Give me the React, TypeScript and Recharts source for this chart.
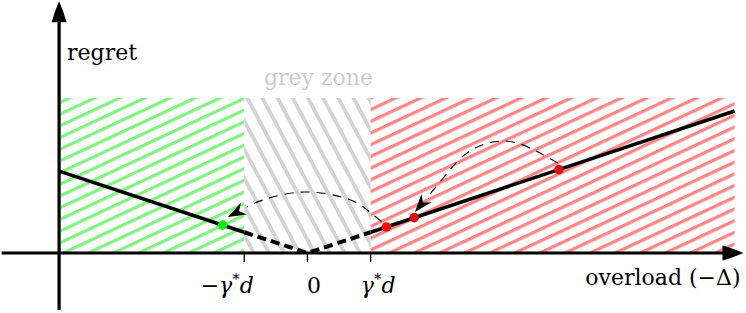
import React from 'react';
import {
  ComposedChart,
  XAxis,
  YAxis,
  Line,
  ReferenceArea,
  ReferenceLine,
  ReferenceDot,
} from 'recharts';

// ---- data (units: x in multiples of γ*d, y in regret units) ----
const X_DOMAIN: [number, number] = [-4.865, 6.94];
const Y_DOMAIN: [number, number] = [0, 4.08];

const regretAxisX = -3.93;
const xAxisSegment = [
  { x: -4.84, y: 0 },
  { x: 6.9, y: 0 },
];
const yAxisSegment = [
  { x: regretAxisX, y: -0.92 },
  { x: regretAxisX, y: 4.06 },
];

const tickValues = [-1, 0, 1];
const tickLabels = ['−γ*d', '0', 'γ*d'];

const zoneTop = 2.5;
const greenZone = { x1: -3.9, x2: -1 };
const greyZone = { x1: -1, x2: 1 };
const redZone = { x1: 1, x2: 6.76 };

const leftSolid = [
  { x: -3.93, y: 1.32 },
  { x: -1, y: 0.335 },
];
const middleDashed = [
  { x: -1, y: 0.335 },
  { x: 0, y: 0 },
  { x: 1, y: 0.335 },
];
const rightSolid = [
  { x: 1, y: 0.335 },
  { x: 6.76, y: 2.29 },
];

const arcLeft = [
  { x: 1.174, y: 0.505 },
  { x: 0.926, y: 0.71 },
  { x: 0.641, y: 0.871 },
  { x: -0.04, y: 0.984 },
  { x: -0.704, y: 0.855 },
  { x: -0.96, y: 0.74 },
];
const arcLeftHead = [
  { x: -0.96, y: 0.74 },
  { x: -1.258, y: 0.581 },
];
const arcRight = [
  { x: 3.964, y: 1.452 },
  { x: 3.584, y: 1.661 },
  { x: 3.125, y: 1.806 },
  { x: 2.571, y: 1.645 },
  { x: 2.176, y: 1.242 },
  { x: 1.88, y: 0.88 },
];
const arcRightHead = [
  { x: 1.88, y: 0.88 },
  { x: 1.701, y: 0.661 },
];

const greenPoints = [{ x: -1.34, y: 0.45 }];
const redPoints = [
  { x: 1.25, y: 0.42, c: '#ff0a0a' },
  { x: 1.69, y: 0.57, c: '#d81010' },
  { x: 3.98, y: 1.345, c: '#dd1010' },
];

const FONT = "'DejaVu Serif', serif";
const FS = 22;

// ---- shapes ----
const AxisArrow = (p: any) => {
  const { x1, y1, x2, y2 } = p;
  const dx = x2 - x1;
  const dy = y2 - y1;
  const len = Math.hypot(dx, dy) || 1;
  const ux = dx / len;
  const uy = dy / len;
  const nx = -uy;
  const ny = ux;
  const L = 21;
  const W = 7.5;
  const bx = x2 - ux * L;
  const by = y2 - uy * L;
  const mx1 = x2 - ux * L * 0.5 + nx * W * 0.62;
  const my1 = y2 - uy * L * 0.5 + ny * W * 0.62;
  const mx2 = x2 - ux * L * 0.5 - nx * W * 0.62;
  const my2 = y2 - uy * L * 0.5 - ny * W * 0.62;
  return (
    <g>
      <line x1={x1} y1={y1} x2={bx + ux * 4} y2={by + uy * 4} stroke="#000" strokeWidth={3.2} />
      <path
        d={`M${x2},${y2} Q${mx1},${my1} ${bx + nx * W},${by + ny * W} L${bx - nx * W},${by - ny * W} Q${mx2},${my2} ${x2},${y2} Z`}
        fill="#000"
      />
    </g>
  );
};

const StealthHead = (p: any) => {
  const { x1, y1, x2, y2 } = p;
  const dx = x2 - x1;
  const dy = y2 - y1;
  const len = Math.hypot(dx, dy) || 1;
  const ux = dx / len;
  const uy = dy / len;
  const nx = -uy;
  const ny = ux;
  const L = 18;
  const W = 6.5;
  const N = 5.5;
  const bx = x2 - ux * L;
  const by = y2 - uy * L;
  const kx = x2 - ux * (L - N);
  const ky = y2 - uy * (L - N);
  return (
    <path
      d={`M${x2},${y2} L${bx + nx * W},${by + ny * W} L${kx},${ky} L${bx - nx * W},${by - ny * W} Z`}
      fill="#000"
    />
  );
};

const mathLabel = (label: string) => {
  if (label.includes('γ*d')) {
    const prefix = label.replace('γ*d', '');
    return (
      <>
        {prefix && <tspan>{prefix}</tspan>}
        <tspan fontStyle="italic">γ</tspan>
        <tspan fontSize={15} dy={-9}>*</tspan>
        <tspan fontStyle="italic" dy={9}>d</tspan>
      </>
    );
  }
  return label;
};

const tickShift = [-17, 6.5, 7.5];

const TickLabel = (props: any) => {
  const { x, y, payload } = props;
  const i = tickValues.indexOf(payload.value);
  return (
    <text
      x={x + (tickShift[i] ?? 0)}
      y={y + 29}
      textAnchor="middle"
      fontFamily={FONT}
      fontSize={FS}
      fill="#000"
    >
      {mathLabel(tickLabels[i] ?? String(payload.value))}
    </text>
  );
};

export default function App() {
  return (
    <div style={{ position: 'absolute', left: 0, top: 0, width: 746, height: 313, background: '#fff' }}>
      <ComposedChart width={746} height={313} margin={{ top: 0, right: 0, bottom: 0, left: 0 }}>
        <defs>
          <pattern id="hatchGreen" patternUnits="userSpaceOnUse" width={10.6} height={10.6} patternTransform="rotate(-25)">
            <rect x={0} y={0} width={10.6} height={3.3} fill="#84f184" />
          </pattern>
          <pattern id="hatchRed" patternUnits="userSpaceOnUse" width={10.6} height={10.6} patternTransform="rotate(-25)">
            <rect x={0} y={0} width={10.6} height={3.3} fill="#ff8686" />
          </pattern>
          <pattern id="hatchGrey" patternUnits="userSpaceOnUse" width={13.4} height={13.4} patternTransform="rotate(62)">
            <rect x={0} y={0} width={13.4} height={3.8} fill="#d3d3d3" />
          </pattern>
        </defs>
        <XAxis
          type="number"
          dataKey="x"
          domain={X_DOMAIN}
          allowDataOverflow
          ticks={tickValues}
          interval={0}
          height={60}
          axisLine={false}
          tickLine={{ stroke: '#000', strokeWidth: 1.3 }}
          tickSize={9}
          tick={TickLabel}
        />
        <YAxis hide type="number" domain={Y_DOMAIN} allowDataOverflow />

        <ReferenceArea x1={greenZone.x1} x2={greenZone.x2} y1={0} y2={zoneTop} fill="url(#hatchGreen)" fillOpacity={1} stroke="none" ifOverflow="visible" />
        <ReferenceArea x1={greyZone.x1} x2={greyZone.x2} y1={0} y2={zoneTop} fill="url(#hatchGrey)" fillOpacity={1} stroke="none" ifOverflow="visible" />
        <ReferenceArea x1={redZone.x1} x2={redZone.x2} y1={0} y2={zoneTop} fill="url(#hatchRed)" fillOpacity={1} stroke="none" ifOverflow="visible" />

        <ReferenceLine segment={xAxisSegment} shape={AxisArrow} ifOverflow="visible" />
        <ReferenceLine segment={yAxisSegment} shape={AxisArrow} ifOverflow="visible" />

        <Line data={leftSolid} dataKey="y" type="linear" stroke="#000" strokeWidth={3.5} dot={false} activeDot={false} isAnimationActive={false} />
        <Line data={middleDashed} dataKey="y" type="linear" stroke="#000" strokeWidth={4} strokeDasharray="9 5" dot={false} activeDot={false} isAnimationActive={false} />
        <Line data={rightSolid} dataKey="y" type="linear" stroke="#000" strokeWidth={3.5} dot={false} activeDot={false} isAnimationActive={false} />
        <Line data={arcLeft} dataKey="y" type="natural" stroke="#000" strokeWidth={1.1} strokeDasharray="9 7" dot={false} activeDot={false} isAnimationActive={false} />
        <Line data={arcRight} dataKey="y" type="natural" stroke="#000" strokeWidth={1.1} strokeDasharray="9 7" dot={false} activeDot={false} isAnimationActive={false} />

        {greenPoints.map((p, i) => (
          <ReferenceDot key={`g${i}`} x={p.x} y={p.y} r={4.8} fill="#12ea12" stroke="none" ifOverflow="visible" />
        ))}
        {redPoints.map((p, i) => (
          <ReferenceDot key={`r${i}`} x={p.x} y={p.y} r={4.8} fill={p.c} stroke="none" ifOverflow="visible" />
        ))}

        <ReferenceLine segment={arcLeftHead} shape={StealthHead} ifOverflow="visible" />
        <ReferenceLine segment={arcRightHead} shape={StealthHead} ifOverflow="visible" />

        <ReferenceDot
          x={regretAxisX}
          y={3.11}
          r={0}
          ifOverflow="visible"
          shape={(p: any) => (
            <text x={p.cx + 8} y={p.cy} fontFamily={FONT} fontSize={FS} fill="#000">regret</text>
          )}
        />
        <ReferenceDot
          x={0}
          y={zoneTop}
          r={0}
          ifOverflow="visible"
          shape={(p: any) => (
            <text x={p.cx + 11} y={p.cy - 13} textAnchor="middle" fontFamily={FONT} fontSize={FS} fill="#cccccc">grey zone</text>
          )}
        />
        <ReferenceDot
          x={xAxisSegment[1].x}
          y={0}
          r={0}
          ifOverflow="visible"
          shape={(p: any) => (
            <text x={p.cx - 3} y={p.cy + 32} textAnchor="end" fontFamily={FONT} fontSize={FS} fill="#000">overload (−Δ)</text>
          )}
        />
      </ComposedChart>
    </div>
  );
}
